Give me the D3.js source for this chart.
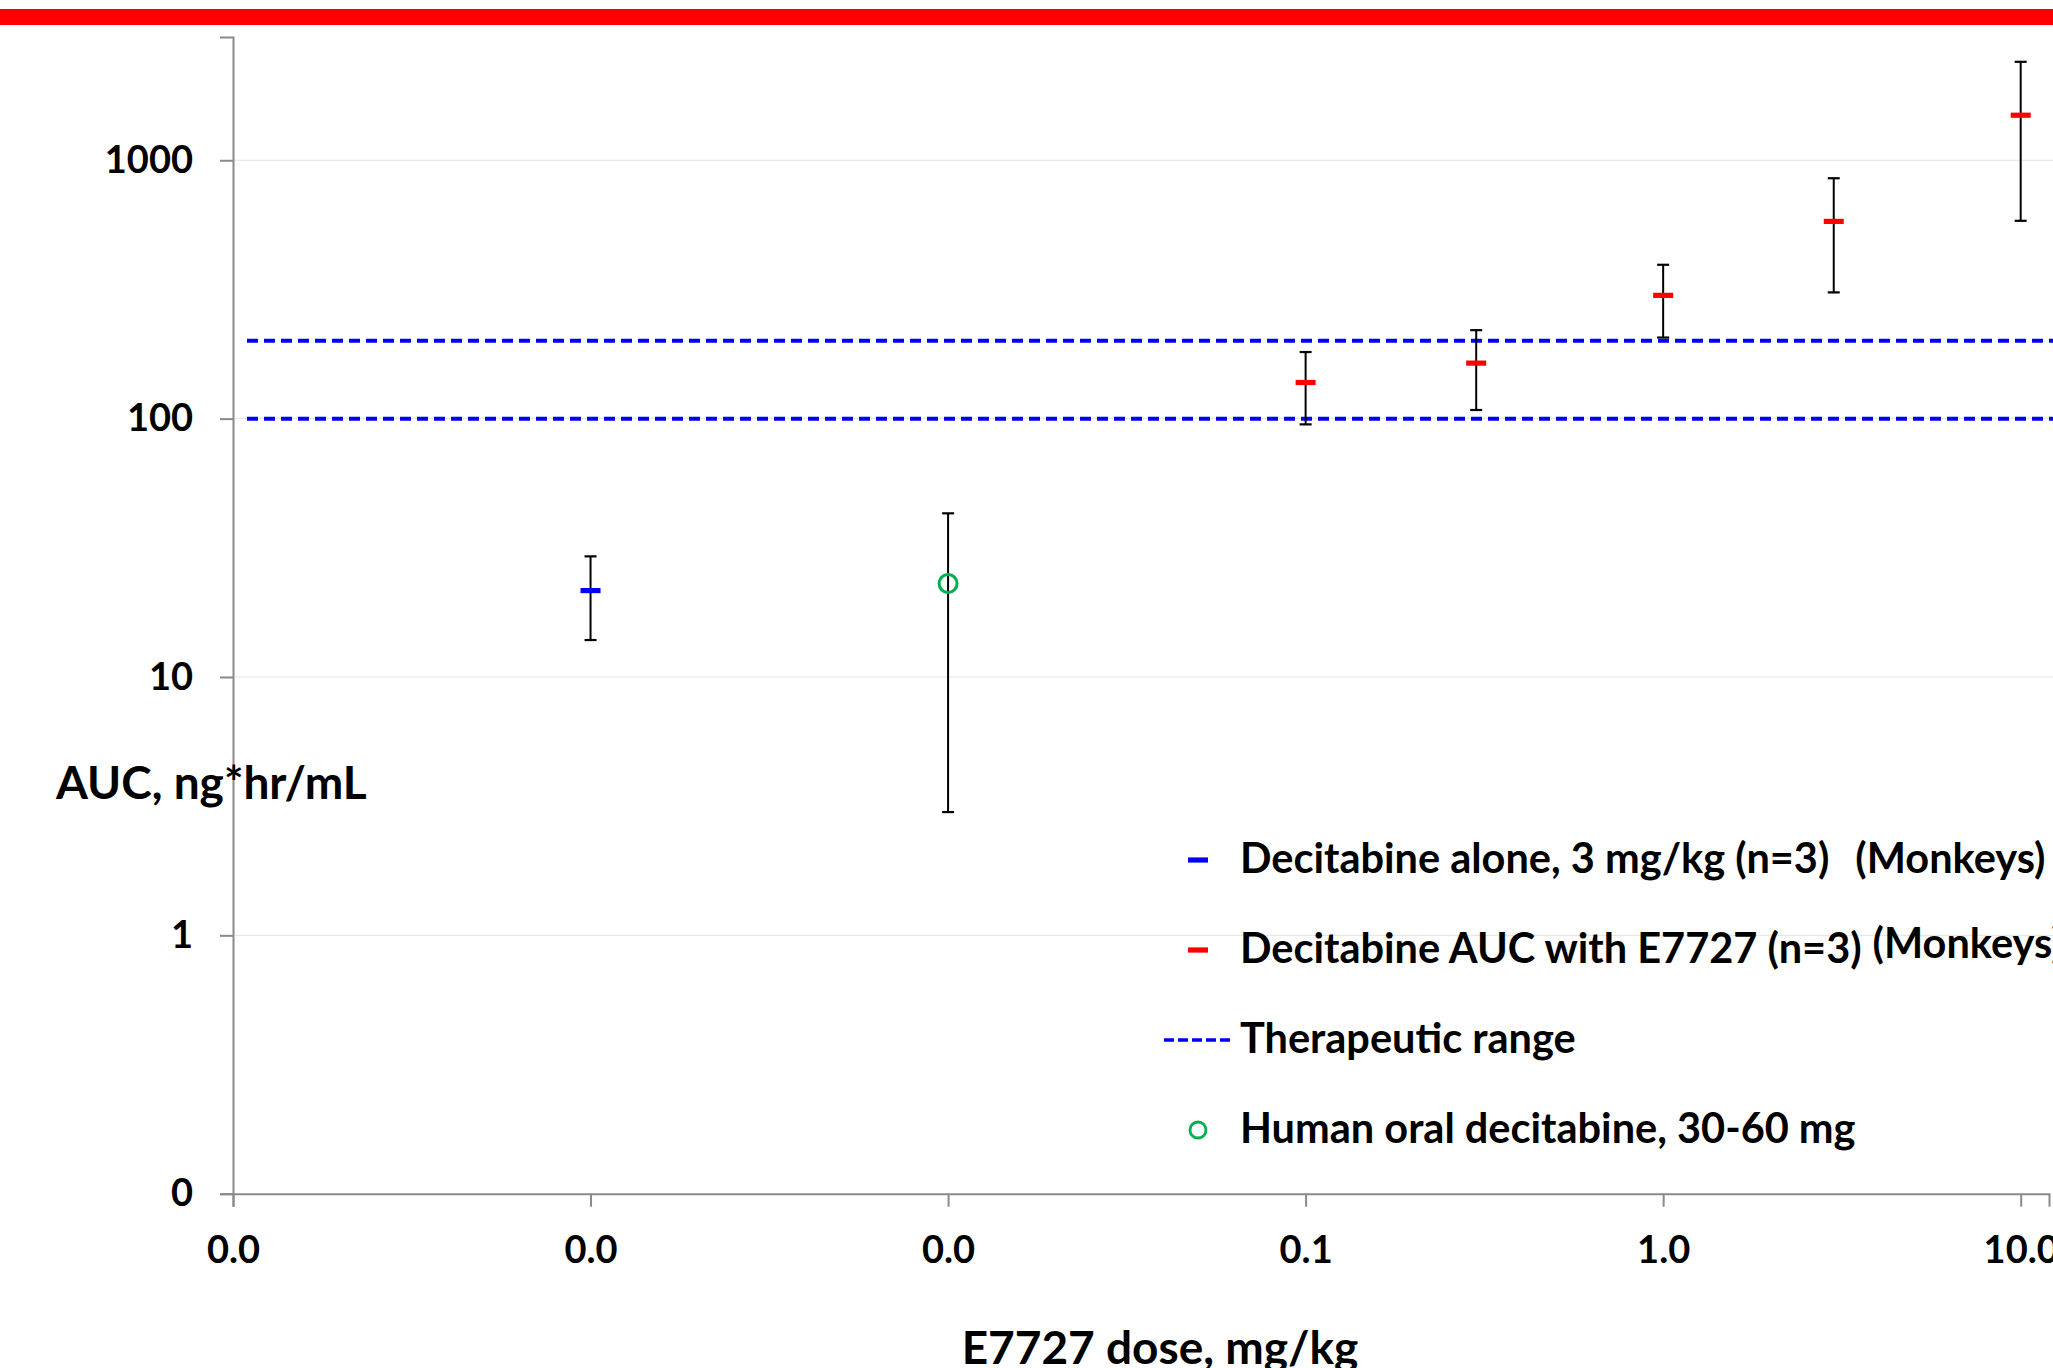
<!DOCTYPE html>
<html>
<head>
<meta charset="utf-8">
<script src="https://cdn.jsdelivr.net/npm/d3@7"></script>
<style>
  body { margin: 0; background: #ffffff; }
  svg { display: block; }
  text { font-family: Lato, "Open Sans", "Noto Sans", sans-serif; font-weight: 700; fill: #000; }
</style>
</head>
<body>
<svg id="chart" width="2053" height="1368"></svg>
<script>
// Axis ticks (log scales)
const doseTicks = [0.0001, 0.001, 0.01, 0.1, 1, 10];
const aucTicks = [0.1, 1, 10, 100, 1000];

// Decitabine AUC with E7727 (monkeys, n=3): dose, mean, SD
const comboDose = [0.1, 0.3, 1, 3, 10];
const comboAUC = [138, 164, 300, 580, 1494];
const comboSD = [43, 56, 94, 272, 911];

// Decitabine alone, 3 mg/kg (monkeys, n=3), plotted at the 0.001 slot
const aloneDose = [0.001];
const aloneAUC = [21.6];
const aloneSD = [7.7];

// Human oral decitabine 30-60 mg, plotted at the 0.01 slot, with range
const humanDose = [0.01];
const humanAUC = [23];
const humanLow = [3];
const humanHigh = [43];

// Therapeutic range bounds
const therapeuticRange = [100, 200];

// Legend entries
const legendLabels = [
  "Decitabine alone, 3 mg/kg (n=3)",
  "Decitabine AUC with E7727 (n=3)",
  "Therapeutic range",
  "Human oral decitabine, 30-60 mg"
];
const legendExtras = ["(Monkeys)", "(Monkeys)", "", ""];

const svg = d3.select("#chart");
const W = 2053, H = 1368;

const blue = "#0000ff", red = "#ff0000", green = "#00b050", axisGray = "#8a8a8a";

// Banner stripe
svg.append("rect").attr("x", 0).attr("y", 9).attr("width", W).attr("height", 16).attr("fill", red);

const x = d3.scaleLog().domain([0.0001, 12]).range([233, 2049]);
const y = d3.scaleLog().domain([0.1, 3000]).range([1193.7, 37]);

// Gridlines
svg.append("g").selectAll("line").data(aucTicks.filter(d => d > 0.1)).join("line")
  .attr("x1", x.range()[0]).attr("x2", W)
  .attr("y1", d => y(d)).attr("y2", d => y(d))
  .attr("stroke", "#e3e3e3").attr("stroke-width", 1);

// Therapeutic range dashed lines
svg.append("g").selectAll("line").data(therapeuticRange).join("line")
  .attr("x1", x.range()[0] + 14).attr("x2", W)
  .attr("y1", d => y(d)).attr("y2", d => y(d))
  .attr("stroke", blue).attr("stroke-width", 4)
  .attr("stroke-dasharray", "11 6");

// Y axis
const yAxis = svg.append("g").attr("transform", `translate(${x.range()[0]},0)`)
  .call(d3.axisLeft(y).tickValues(aucTicks).tickFormat(d3.format(".0f")).tickSize(13).tickPadding(27));
// X axis
const xAxis = svg.append("g").attr("transform", `translate(0,${y.range()[0]})`)
  .call(d3.axisBottom(x).tickValues(doseTicks).tickFormat(d3.format(".1f")).tickSize(13).tickPadding(29));

[yAxis, xAxis].forEach(g => {
  g.select(".domain").attr("stroke", axisGray).attr("stroke-width", 2);
  g.selectAll(".tick line").attr("stroke", axisGray).attr("stroke-width", 2);
  g.selectAll(".tick text").attr("font-size", 38).attr("fill", "#000")
    .style("font-family", "Lato, 'Open Sans', sans-serif").style("font-weight", 700);
});

// Error bars
function errorBars(cls, doses, lows, highs) {
  const g = svg.append("g").attr("class", cls);
  const rows = doses.map((d, i) => ({ d, lo: lows[i], hi: highs[i] }));
  g.selectAll("line.stem").data(rows).join("line").attr("class", "stem")
    .attr("x1", r => x(r.d)).attr("x2", r => x(r.d))
    .attr("y1", r => y(r.lo)).attr("y2", r => y(r.hi))
    .attr("stroke", "#000").attr("stroke-width", 2);
  ["lo", "hi"].forEach(k => {
    g.selectAll("line.cap-" + k).data(rows).join("line").attr("class", "cap-" + k)
      .attr("x1", r => x(r.d) - 6).attr("x2", r => x(r.d) + 6)
      .attr("y1", r => y(r[k])).attr("y2", r => y(r[k]))
      .attr("stroke", "#000").attr("stroke-width", 2.2);
  });
}
errorBars("err-alone", aloneDose, aloneAUC.map((v, i) => v - aloneSD[i]), aloneAUC.map((v, i) => v + aloneSD[i]));
errorBars("err-human", humanDose, humanLow, humanHigh);
errorBars("err-combo", comboDose, comboAUC.map((v, i) => v - comboSD[i]), comboAUC.map((v, i) => v + comboSD[i]));

// Dash markers
function dashes(doses, values, color) {
  svg.append("g").selectAll("rect").data(doses.map((d, i) => [d, values[i]])).join("rect")
    .attr("x", p => x(p[0]) - 10).attr("y", p => y(p[1]) - 2.6)
    .attr("width", 20).attr("height", 5.2).attr("fill", color);
}
dashes(aloneDose, aloneAUC, blue);
dashes(comboDose, comboAUC, red);

// Open circle marker
svg.append("g").selectAll("circle").data(humanDose.map((d, i) => [d, humanAUC[i]])).join("circle")
  .attr("cx", p => x(p[0])).attr("cy", p => y(p[1])).attr("r", 9)
  .attr("fill", "none").attr("stroke", green).attr("stroke-width", 3);

// Axis titles
svg.append("text").attr("x", 56).attr("y", 799).attr("font-size", 46).text("AUC, ng*hr/mL");
svg.append("text").attr("x", 1160).attr("y", 1364).attr("text-anchor", "middle").attr("font-size", 46)
  .text("E7727 dose, mg/kg");

// Legend
const legend = svg.append("g").attr("transform", "translate(1198,860)");
const rowGap = 90;
legend.append("rect").attr("x", -10).attr("y", -2.6).attr("width", 20).attr("height", 5.2).attr("fill", blue);
legend.append("rect").attr("x", -10).attr("y", rowGap - 2.6).attr("width", 20).attr("height", 5.2).attr("fill", red);
legend.append("line").attr("x1", -34).attr("x2", 36).attr("y1", rowGap * 2).attr("y2", rowGap * 2)
  .attr("stroke", blue).attr("stroke-width", 3.5).attr("stroke-dasharray", "10 4");
legend.append("circle").attr("cx", 0).attr("cy", rowGap * 3).attr("r", 8)
  .attr("fill", "none").attr("stroke", green).attr("stroke-width", 2.8);

const extraShift = [[26, 0], [11, -5]];
legendLabels.forEach((lab, i) => {
  const t = legend.append("text").attr("x", 42).attr("y", rowGap * i + 13).attr("font-size", 41.5).text(lab);
  if (legendExtras[i]) {
    t.append("tspan").attr("dx", extraShift[i][0]).attr("dy", extraShift[i][1]).text(legendExtras[i]);
  }
});
</script>
</body>
</html>
